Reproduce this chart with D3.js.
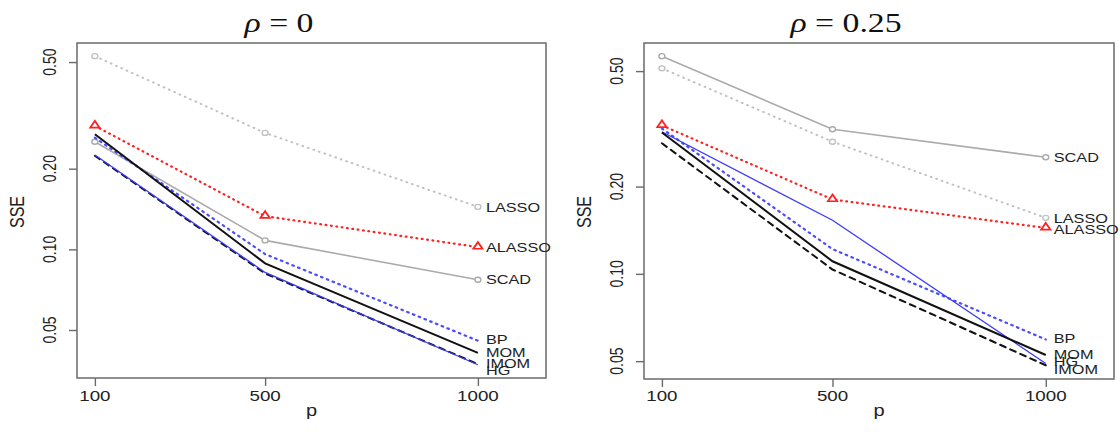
<!DOCTYPE html>
<html>
<head>
<meta charset="utf-8">
<script src="https://cdn.jsdelivr.net/npm/d3@7/dist/d3.min.js"></script>
<style>
  body { margin: 0; background: #fff; }
  svg { display: block; }
  text { font-family: "Liberation Sans", Arial, sans-serif; fill: #222; }
</style>
</head>
<body>
<svg id="chart" width="1120" height="432"></svg>
<script>
// x categories and y ticks
const pValues = [100, 500, 1000];
const yTickValues = [0.05, 0.10, 0.20, 0.50];
const yTickLabels = ["0.05", "0.10", "0.20", "0.50"];
const methods = ["LASSO", "ALASSO", "SCAD", "BP", "IMOM", "HG", "MOM"];

// rho = 0
const lassoRho0  = [0.526, 0.272, 0.144];
const alassoRho0 = [0.289, 0.133, 0.102];
const scadRho0   = [0.252, 0.108, 0.077];
const bpRho0     = [0.261, 0.096, 0.0456];
const momRho0    = [0.269, 0.0887, 0.0411];
const imomRho0   = [0.2235, 0.0813, 0.0373];
const hgRho0     = [0.225, 0.082, 0.0371];

// rho = 0.25
const lassoRho25  = [0.511, 0.2855, 0.156];
const alassoRho25 = [0.325, 0.1805, 0.144];
const scadRho25   = [0.563, 0.315, 0.2524];
const bpRho25     = [0.317, 0.1217, 0.0594];
const momRho25    = [0.307, 0.1105, 0.0525];
const imomRho25   = [0.282, 0.1035, 0.0484];
const hgRho25     = [0.309, 0.153, 0.0491];

// line look per method
const styles = {
  LASSO:  { color: "#c2c2c2", width: 2,   dash: "0.8 5",  marker: "circle" },
  ALASSO: { color: "#ff2020", width: 2.2, dash: "0.8 4.6", marker: "triangle" },
  SCAD:   { color: "#ababab", width: 1.6, dash: null,     marker: "circle" },
  BP:     { color: "#4b4bff", width: 2.2, dash: "1.6 4.6", marker: null },
  MOM:    { color: "#111",    width: 2,   dash: null,     marker: null },
  IMOM:   { color: "#111",    width: 2,   dash: "6 5",    marker: null },
  HG:     { color: "#3a3aff", width: 1.3, dash: null,     marker: null }
};

const SX = 1.25; // picture is a bit stretched sideways

const panels = [
  {
    titleRest: "0", titleX: 279,
    box: { x0: 77, x1: 546, y0: 43, y1: 378 },
    yDomain: [0.0331, 0.589],
    series: { LASSO: lassoRho0, ALASSO: alassoRho0, SCAD: scadRho0, BP: bpRho0,
              MOM: momRho0, IMOM: imomRho0, HG: hgRho0 },
    nudge: { LASSO: 0, ALASSO: 0, SCAD: 0, BP: -1, MOM: -1, IMOM: -1, HG: 6 }
  },
  {
    titleRest: "0.25", titleX: 846,
    box: { x0: 644, x1: 1114, y0: 43, y1: 379 },
    yDomain: [0.0434, 0.625],
    series: { LASSO: lassoRho25, ALASSO: alassoRho25, SCAD: scadRho25, BP: bpRho25,
              MOM: momRho25, IMOM: imomRho25, HG: hgRho25 },
    nudge: { LASSO: 0, ALASSO: 1, SCAD: 0, BP: -1, MOM: -1, IMOM: 4, HG: -2 }
  }
];

const svg = d3.select("#chart");

function stretchedText(g, x, y, str, size, rotate) {
  const t = g.append("text")
    .attr("transform", `translate(${x},${y}) scale(${SX},1)` + (rotate ? " rotate(-90)" : ""))
    .attr("text-anchor", "middle")
    .style("font-size", size + "px")
    .text(str);
  return t;
}

panels.forEach(function(panel) {
  const b = panel.box;
  const g = svg.append("g");

  const x = d3.scaleLinear().domain([58, 1160]).range([b.x0, b.x1]);
  const y = d3.scaleLog().domain(panel.yDomain).range([b.y1, b.y0]);

  // box
  g.append("rect")
    .attr("x", b.x0).attr("y", b.y0)
    .attr("width", b.x1 - b.x0).attr("height", b.y1 - b.y0)
    .attr("fill", "none").attr("stroke", "#6a6a6a").attr("stroke-width", 1.5);

  // x axis
  const xAxis = d3.axisBottom(x).tickValues(pValues).tickSize(8).tickFormat("");
  const xg = g.append("g").attr("transform", `translate(0,${b.y1})`).call(xAxis);
  xg.select(".domain").remove();
  xg.selectAll("line").attr("stroke", "#6a6a6a").attr("stroke-width", 1.4);
  pValues.forEach(function(p) {
    stretchedText(g, x(p), 401, String(p), 15);
  });

  // y axis
  const yAxis = d3.axisLeft(y).tickValues(yTickValues).tickSize(8).tickFormat("");
  const yg = g.append("g").attr("transform", `translate(${b.x0},0)`).call(yAxis);
  yg.select(".domain").remove();
  yg.selectAll("line").attr("stroke", "#6a6a6a").attr("stroke-width", 1.4);
  yTickValues.forEach(function(v, i) {
    stretchedText(g, b.x0 - 21, y(v), yTickLabels[i], 14, true);
  });

  // axis titles
  stretchedText(g, (b.x0 + b.x1) / 2, 416, "p", 16);
  stretchedText(g, b.x0 - 53, 212, "SSE", 16, true);

  // panel title
  const tt = g.append("text")
    .attr("transform", `translate(${panel.titleX},32) scale(${SX},1)`)
    .attr("text-anchor", "middle")
    .style("font-family", "'Liberation Serif', 'Times New Roman', serif")
    .style("font-size", "27px")
    .style("fill", "#111");
  tt.append("tspan").style("font-style", "italic").text("\u03C1");
  tt.append("tspan").text(" = " + panel.titleRest);

  // lines
  const line = d3.line()
    .x(function(d, i) { return x(pValues[i]); })
    .y(function(d) { return y(d); });

  methods.forEach(function(m) {
    const s = styles[m];
    const vals = panel.series[m];
    g.append("path")
      .datum(vals)
      .attr("d", line)
      .attr("fill", "none")
      .attr("stroke", s.color)
      .attr("stroke-width", s.width)
      .attr("stroke-dasharray", s.dash)
      .attr("stroke-linecap", s.dash ? "round" : "butt");

    if (s.marker === "circle") {
      g.selectAll(null).data(vals).enter().append("ellipse")
        .attr("cx", function(d, i) { return x(pValues[i]); })
        .attr("cy", function(d) { return y(d); })
        .attr("rx", 3).attr("ry", 2.5)
        .attr("fill", "#fff").attr("stroke", s.color).attr("stroke-width", 1.4);
    } else if (s.marker === "triangle") {
      const tri = d3.symbol().type(d3.symbolTriangle).size(26);
      g.selectAll(null).data(vals).enter().append("path")
        .attr("d", tri)
        .attr("transform", function(d, i) { return `translate(${x(pValues[i])},${y(d) - 0.5}) scale(1.2,1)`; })
        .attr("fill", "#fff").attr("stroke", s.color).attr("stroke-width", 1.6);
    }

    // end label
    g.append("text")
      .attr("transform", `translate(${x(1000) + 8},${y(vals[2]) + panel.nudge[m]}) scale(${SX},1)`)
      .attr("dy", "0.36em")
      .style("font-size", "13px")
      .style("fill", "#222")
      .text(m);
  });
});
</script>
</body>
</html>
